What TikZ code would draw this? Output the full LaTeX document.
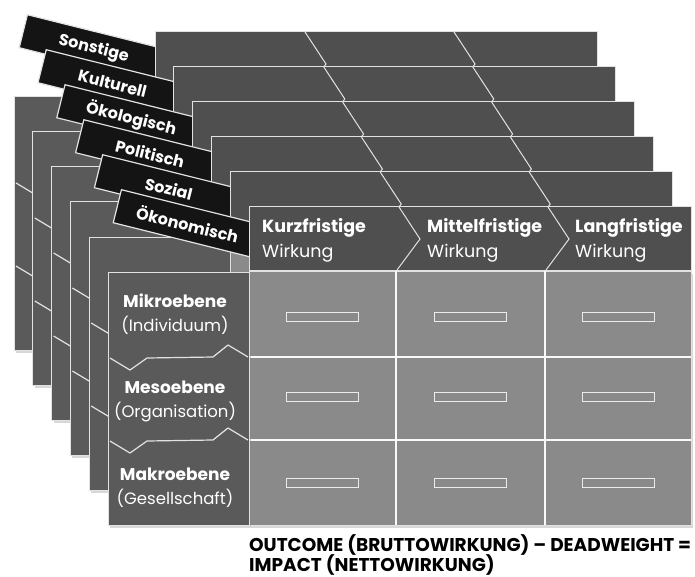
\documentclass[tikz,border=0pt]{standalone}
\usepackage{fontspec}
\setmainfont{Poppins}
\usetikzlibrary{shadows}
\definecolor{hdrgray}{HTML}{4F4F4F}
\definecolor{lvlgray}{HTML}{5A5A5A}
\definecolor{cellgray}{HTML}{8A8A8A}
\definecolor{tabblack}{HTML}{141414}
\definecolor{edgegray}{HTML}{E2E2E2}

\tikzset{
  tabbox/.style={fill=tabblack, draw=edgegray, line width=1.2pt, text=white,
    rotate=-14, anchor=north west, minimum width=145, minimum height=34,
    inner sep=0pt, font=\fontsize{16}{16}\selectfont\bfseries},
  hdrbar/.style={fill=hdrgray, draw=edgegray, line width=1pt},
  divline/.style={draw=edgegray, line width=1pt, line join=miter},
  cellgrid/.style={fill=cellgray, draw=edgegray, line width=1pt,
    drop shadow={shadow xshift=2pt, shadow yshift=-3pt, opacity=0.3}},
  gridline/.style={draw=white!95!gray, line width=2pt},
  lvlpanel/.style={fill=lvlgray, draw=edgegray, line width=1pt,
    drop shadow={shadow xshift=2pt, shadow yshift=-3pt, opacity=0.3}},
  zigline/.style={draw=edgegray, line width=1.2pt, line join=round},
  slotbar/.style={draw=white!85!gray, line width=1pt},
  hdrtop/.style={anchor=base west, inner sep=0pt, text=white,
    font=\fontsize{17.5}{17.5}\selectfont\bfseries},
  hdrbot/.style={hdrtop, font=\fontsize{17.5}{17.5}\selectfont},
  lvltop/.style={anchor=base, inner sep=0pt, text=white,
    font=\fontsize{17}{17}\selectfont\bfseries},
  lvlbot/.style={lvltop, font=\fontsize{16.5}{16.5}\selectfont},
  outtext/.style={anchor=base west, inner sep=0pt, text=black,
    font=\fontsize{18.5}{18.5}\selectfont\bfseries}
}

\begin{document}
\begin{tikzpicture}[x=1pt,y=-1pt]
  \fill[white] (0,0) rectangle (695,577);
  \useasboundingbox (0,0) rectangle (695,577);

  % stacked layers, back to front
  \foreach \lab [count=\i from 0] in {Sonstige,Kulturell,Ökologisch,Politisch,Sozial,Ökonomisch}{
    \begin{scope}[shift={(155+18.8*\i,32+35*\i)}]
      \node[tabbox] (tab\i) at (-128,-18) {\lab};
      % header with chevrons
      \draw[hdrbar] (0,0) rectangle (442,63);
      \draw[divline] (150,0) -- (171,32) -- (148,63);
      \draw[divline] (299,0) -- (320,32) -- (297,63);
      % cells
      \draw[cellgrid] (0,64) rectangle (442,318);
      \draw[gridline] (147,64) -- (147,318) (296,64) -- (296,318)
                      (0,150) -- (442,150) (0,233) -- (442,233);
      % level column
      \draw[lvlpanel] (-141,65) rectangle (0,318);
      \draw[zigline] (-139,151) -- (-119,163) -- (-102,151) -- (-36,150) -- (-21,138) -- (-1,150);
      \draw[zigline] (-139,234) -- (-119,246) -- (-102,234) -- (-36,233) -- (-21,221) -- (-1,233);
    \end{scope}
  }

  % labels of the front layer
  \begin{scope}[shift={(249,207)}]
    \foreach \x/\colname [count=\c] in {13/Kurzfristige,178/Mittelfristige,326/Langfristige}{
      \node[hdrtop] (col\c) at (\x,26) {\colname};
      \node[hdrbot] (colsub\c) at (\x,50) {Wirkung};
    }
    \foreach \y/\main/\sub [count=\r] in {100/Mikroebene/Individuum,186/Mesoebene/Organisation,273/Makroebene/Gesellschaft}{
      \node[lvltop] (row\r) at (-74,\y) {\main};
      \node[lvlbot] (rowsub\r) at (-74,\y+24) {(\sub)};
    }
    \foreach \cx in {73.5,221.5,369}
      \foreach \cy in {110,190,276}
        \draw[slotbar] (\cx-36,\cy-4.5) rectangle (\cx+36,\cy+4.5);
  \end{scope}

  \node[outtext] (outcome) at (249,551) {OUTCOME (BRUTTOWIRKUNG) – DEADWEIGHT =};
  \node[outtext] (impact) at (249,571) {IMPACT (NETTOWIRKUNG)};
\end{tikzpicture}
\end{document}
